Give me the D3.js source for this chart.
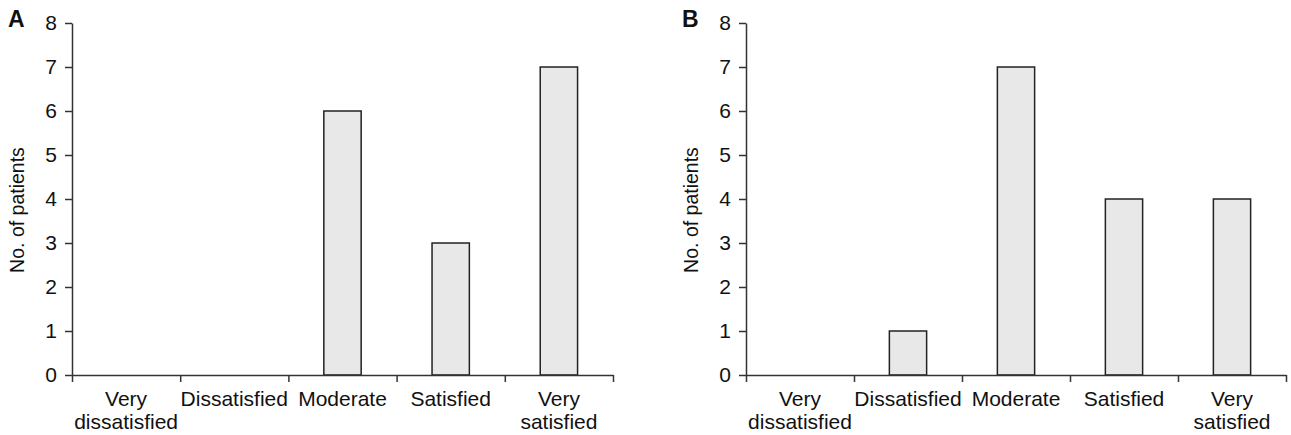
<!DOCTYPE html>
<html>
<head>
<meta charset="utf-8">
<script src="https://cdn.jsdelivr.net/npm/d3@7"></script>
<style>
  body { margin: 0; background: #fff; }
  svg { display: block; font-family: "Liberation Sans", Arial, sans-serif; }
  .axis path, .axis line { stroke: #333; stroke-width: 1.5; }
  .axis text { font-size: 21px; fill: #111; }
</style>
</head>
<body>
<svg id="chart" width="1291" height="435"></svg>
<script>
// Data
const categories = [["Very", "dissatisfied"], ["Dissatisfied"], ["Moderate"], ["Satisfied"], ["Very", "satisfied"]];
const valuesA = [0, 0, 6, 3, 7];
const valuesB = [0, 1, 7, 4, 4];
const yTicks = [0, 1, 2, 3, 4, 5, 6, 7, 8];
const panelLetters = ["A", "B"];

const svg = d3.select("#chart");
const height = { top: 23, bottom: 375 };

function drawPanel(letter, values, left, right) {
    const g = svg.append("g");
    const keys = d3.range(categories.length);

    const x = d3.scaleBand().domain(keys).range([left, right]).padding(0);
    const xEdges = d3.scaleLinear().domain([0, categories.length]).range([left, right]);
    const y = d3.scaleLinear().domain([0, 8]).range([height.bottom, height.top]);

    // bars
    const barW = x.bandwidth() * 0.345;
    g.selectAll("rect.bar")
        .data(values)
        .join("rect")
        .attr("class", "bar")
        .attr("x", (d, i) => x(i) + (x.bandwidth() - barW) / 2)
        .attr("y", (d) => y(d))
        .attr("width", barW)
        .attr("height", (d) => y(0) - y(d))
        .attr("fill", "#e8e8e8")
        .attr("stroke", "#222")
        .attr("stroke-width", 1.5)
        .style("display", (d) => (d > 0 ? null : "none"));

    // y axis
    const yAxis = d3.axisLeft(y).tickValues(yTicks).tickSize(7).tickSizeOuter(0).tickPadding(8);
    g.append("g")
        .attr("class", "axis")
        .attr("transform", `translate(${left},0)`)
        .call(yAxis);

    // x axis: ticks on category boundaries
    const xAxis = d3.axisBottom(xEdges).tickValues(d3.range(categories.length + 1)).tickFormat("").tickSize(7).tickSizeOuter(0);
    g.append("g")
        .attr("class", "axis")
        .attr("transform", `translate(0,${height.bottom})`)
        .call(xAxis);

    // category labels
    const labels = g.selectAll("text.cat")
        .data(categories)
        .join("text")
        .attr("class", "cat")
        .attr("text-anchor", "middle")
        .attr("font-size", 21)
        .attr("fill", "#111")
        .attr("x", (d, i) => x(i) + x.bandwidth() / 2)
        .attr("y", 406);
    labels.selectAll("tspan")
        .data((d) => d)
        .join("tspan")
        .attr("x", function () { return d3.select(this.parentNode).attr("x"); })
        .attr("dy", (d, i) => (i === 0 ? 0 : 22.5))
        .text((d) => d);

    // y title
    g.append("text")
        .attr("transform", `translate(${left - 48},${(height.top + height.bottom) / 2 + 11}) rotate(-90)`)
        .attr("text-anchor", "middle")
        .attr("font-size", 19.5)
        .attr("fill", "#111")
        .text("No. of patients");

    // panel letter
    g.append("text")
        .attr("x", left - 64)
        .attr("y", 27)
        .attr("font-size", 23)
        .attr("font-weight", "bold")
        .attr("fill", "#111")
        .text(letter);
}

drawPanel(panelLetters[0], valuesA, 72, 613);
drawPanel(panelLetters[1], valuesB, 746, 1286);
</script>
</body>
</html>
